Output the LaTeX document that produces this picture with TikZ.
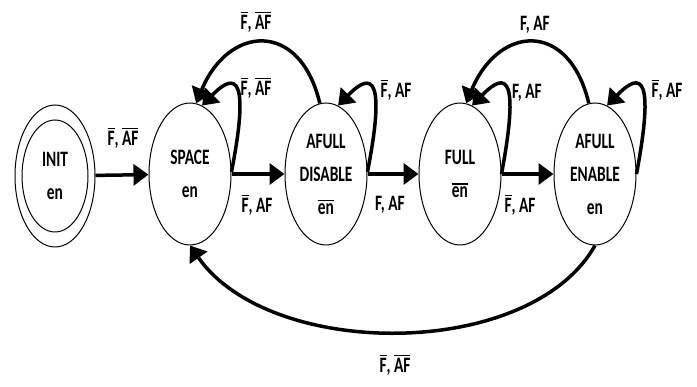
\documentclass[tikz,border=0pt]{standalone}
\usepackage{fontspec}
\setmainfont{Carlito}[FakeStretch=0.7]
\usetikzlibrary{shapes.geometric,arrows.meta}
\newcommand{\nt}[1]{\vbox{\hrule height 1.6pt\kern 1.8pt\hbox{#1}}}

\tikzset{
  state/.style={draw,ellipse,line width=1pt,minimum width=82pt,minimum height=142pt,inner sep=0pt,align=center},
  trans/.style={line width=3.5pt,-{Triangle[length=15pt,width=21pt]}},
  lbl/.style={inner sep=0pt}
}

\begin{document}
\begin{tikzpicture}[x=1pt,y=-1pt,font=\fontsize{22}{33}\selectfont\bfseries]
			\useasboundingbox (0,0) rectangle (697,387);
			% states
			\node[state,minimum width=80pt] (init) at (55,176) {};
			\node[state,minimum width=66pt,minimum height=112pt] (initin) at (55,176) {INIT\\en};
			\node[state] (space) at (190,174) {SPACE\\en};
			\node[state] (adis) at (326,174) {AFULL\\DISABLE\\\nt{en}};
			\node[state] (full) at (460,174) {FULL\\\nt{en}};
			\node[state] (aen) at (595,174) {AFULL\\ENABLE\\en};
			% forward transitions
			\draw[trans] (init) -- (space);
			\draw[trans] (space) -- (adis);
			\draw[trans] (adis) -- (full);
			\draw[trans] (full) -- (aen);
			% self loops
			\draw[trans] (space.3) .. controls +(18,-92) and +(35,-36) .. (space.80);
			\draw[trans] (adis.3) .. controls +(18,-92) and +(35,-36) .. (adis.80);
			\draw[trans] (full.0) .. controls +(18,-96) and +(35,-36) .. (full.80);
			\draw[trans] (aen.0) .. controls +(18,-96) and +(35,-36) .. (aen.80);
			% back transitions
			\draw[trans] (adis.95) .. controls +(-20,-84) and +(32,-78) .. (space.85);
			\draw[trans] (aen.95) .. controls +(-20,-84) and +(32,-78) .. (full.85);
			\draw[trans] (aen.south) .. controls +(-65,115) and +(80,115) .. (space.south);
			% labels
			\node[lbl] (l1) at (123,138) {\nt{F}, \nt{AF}};
			\node[lbl] (l2) at (257,205) {\nt{F}, AF};
			\node[lbl] (l3) at (390,205) {F, AF};
			\node[lbl] (l4) at (520,205) {\nt{F}, AF};
			\node[lbl] (l5) at (256,88) {\nt{F}, \nt{AF}};
			\node[lbl] (l6) at (396,90) {\nt{F}, AF};
			\node[lbl] (l7) at (256,22) {\nt{F}, \nt{AF}};
			\node[lbl] (l8) at (527,93) {F, AF};
			\node[lbl] (l9) at (667,90) {\nt{F}, AF};
			\node[lbl] (l10) at (535,25) {F, AF};
			\node[lbl] (l11) at (395,365) {\nt{F}, \nt{AF}};
		\end{tikzpicture}
\end{document}
